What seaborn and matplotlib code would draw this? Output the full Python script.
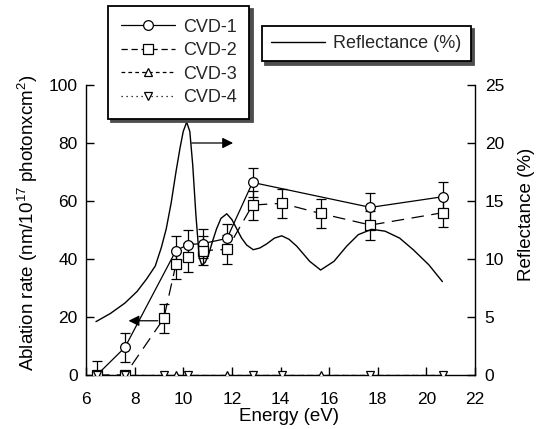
import numpy as np
import matplotlib
matplotlib.use("Agg")
import matplotlib.pyplot as plt
from matplotlib.lines import Line2D
import seaborn as sns

# ---------------- data ----------------
cvd1_x = [6.45, 7.6, 9.7, 10.2, 10.8, 11.8, 12.85, 17.7, 20.7]
cvd1_y = [0.0, 9.5, 42.9, 45.0, 45.3, 47.1, 66.4, 57.8, 61.5]
cvd1_err = [5, 5, 5, 5, 5, 5, 5, 5, 5]

cvd2_x = [6.45, 7.6, 9.2, 9.7, 10.2, 10.8, 11.8, 12.85, 14.05, 15.65, 17.7, 20.7]
cvd2_y = [0.0, 0.0, 19.5, 38.2, 40.6, 42.9, 43.3, 58.6, 59.2, 55.7, 51.7, 56.0]
cvd2_err = [0, 0, 5, 5, 5, 5, 5, 5, 5, 5, 5, 5]

cvd3_x = [6.45, 7.6, 9.7, 11.8, 12.85, 15.65, 20.7]
cvd3_y = [0, 0, 0, 0, 0, 0, 0]

cvd4_x = [6.45, 7.6, 9.2, 10.2, 12.85, 14.05, 17.7, 20.7]
cvd4_y = [0, 0, 0, 0, 0, 0, 0, 0]

refl_x = [6.41, 7.0, 7.6, 8.1, 8.5, 8.85, 9.1, 9.3, 9.5, 9.7, 9.87, 10.0, 10.14,
          10.27, 10.39, 10.52, 10.66, 10.76, 10.9, 11.03, 11.2, 11.37, 11.55,
          11.79, 12.0, 12.2, 12.4, 12.61, 12.88, 13.15, 13.43, 13.75, 14.05,
          14.35, 14.67, 15.2, 15.65, 16.2, 16.72, 17.2, 17.75, 18.3, 18.9,
          19.46, 20.1, 20.66]
refl_y = [4.6, 5.3, 6.2, 7.2, 8.3, 9.4, 11.0, 12.6, 14.8, 17.5, 19.6, 21.0, 21.8,
          21.0, 18.1, 13.8, 10.1, 9.5, 9.7, 10.3, 11.5, 12.6, 13.5,
          13.9, 13.4, 12.6, 11.8, 11.2, 10.8, 10.95, 11.3, 11.8, 12.0,
          11.7, 11.1, 9.8, 9.05, 9.8, 11.1, 12.1, 12.56, 12.4, 11.8,
          10.8, 9.5, 8.05]

xticks = [6, 8, 10, 12, 14, 16, 18, 20, 22]
yticks_left = [0, 20, 40, 60, 80, 100]
yticks_right = [0, 5, 10, 15, 20, 25]

# ---------------- style ----------------
sns.set_theme(style="ticks")
plt.rcParams["font.family"] = ["Liberation Sans", "DejaVu Sans"]
plt.rcParams["mathtext.fontset"] = "custom"
plt.rcParams["mathtext.rm"] = "Liberation Sans"
plt.rcParams["mathtext.it"] = "Liberation Sans:italic"
plt.rcParams["mathtext.bf"] = "Liberation Sans:bold"

W, H = 539, 429
fig = plt.figure(figsize=(W / 100, H / 100), dpi=100)
fig.patch.set_facecolor("white")
ax = fig.add_axes([86 / W, 1 - 375 / H, (475 - 86) / W, (375 - 85) / H])
ax.set_facecolor("white")
ax2 = ax.twinx()

lw = 0.9
mk = dict(markerfacecolor="white", markeredgecolor="black", markeredgewidth=0.9)

# error bars
ax.errorbar(cvd1_x, cvd1_y, yerr=cvd1_err, fmt="none", ecolor="black",
            elinewidth=0.9, capsize=3.5, capthick=0.9, zorder=2)
ax.errorbar(cvd2_x, cvd2_y, yerr=cvd2_err, fmt="none", ecolor="black",
            elinewidth=0.9, capsize=3.5, capthick=0.9, zorder=2)

sns.lineplot(x=cvd1_x, y=cvd1_y, ax=ax, color="black", lw=lw, linestyle="-",
             marker="o", markersize=7, sort=False, zorder=3, **mk)
sns.lineplot(x=cvd2_x, y=cvd2_y, ax=ax, color="black", lw=lw,
             dashes=False, linestyle=(0, (10, 6)),
             marker="s", markersize=6.5, sort=False, zorder=3, **mk)
sns.lineplot(x=cvd3_x, y=cvd3_y, ax=ax, color="black", lw=lw,
             linestyle=(0, (4, 3)),
             marker="^", markersize=6, sort=False, zorder=4, **mk)
sns.lineplot(x=cvd4_x, y=cvd4_y, ax=ax, color="black", lw=lw,
             linestyle=(0, (1, 3)),
             marker="v", markersize=6, sort=False, zorder=4, **mk)

sns.lineplot(x=refl_x, y=refl_y, ax=ax2, color="black", lw=1.0, sort=False)

# arrows
ax.annotate("", xy=(7.75, 18.7), xytext=(8.95, 18.7),
            arrowprops=dict(arrowstyle="-|>", color="black", lw=0.9,
                            mutation_scale=16, shrinkA=0, shrinkB=0))
ax2.annotate("", xy=(12.05, 20.0), xytext=(10.35, 20.0),
             arrowprops=dict(arrowstyle="-|>", color="black", lw=0.9,
                             mutation_scale=16, shrinkA=0, shrinkB=0))

# axes
ax.set_xlim(6, 22)
ax.set_ylim(0, 100)
ax2.set_ylim(0, 25)
ax.set_xticks(xticks)
ax.set_yticks(yticks_left)
ax2.set_yticks(yticks_right)
ax.set_xticklabels([str(v) for v in xticks])
ax.set_yticklabels([str(v) for v in yticks_left])
ax2.set_yticklabels([str(v) for v in yticks_right])

for a in (ax, ax2):
    a.spines["top"].set_visible(False)
    for s in ("left", "right", "bottom"):
        a.spines[s].set_linewidth(1.0)
        a.spines[s].set_color("black")
    a.grid(False)
ax.spines["right"].set_visible(False)
ax2.spines["left"].set_visible(False)
ax2.spines["bottom"].set_visible(False)

ax.tick_params(axis="x", direction="in", length=6, width=1, labelsize=12.5, pad=12,
               colors="black", top=False)
ax.tick_params(axis="y", direction="in", length=6, width=1, labelsize=12.5, pad=6,
               colors="black", right=False)
ax2.tick_params(axis="y", direction="in", length=6, width=1, labelsize=12.5, pad=7,
                colors="black")

ax.set_xlabel("Energy (eV)", fontsize=13.5, color="black")
ax.xaxis.set_label_coords(0.523, -0.114)
ax.set_ylabel(r"Ablation rate (nm/10$\mathregular{^{17}}$ photonxcm$\mathregular{^{2}}$)",
              fontsize=13.5, color="black")
ax.yaxis.set_label_coords(-0.118, 0.525)
ax2.set_ylabel("Reflectance (%)", fontsize=13.5, color="black")
ax2.yaxis.set_label_coords(1.111, 0.555)

# legends
def h(ls, m, ms):
    return Line2D([], [], color="black", lw=lw, linestyle=ls, marker=m,
                  markersize=ms, **mk)

handles1 = [h("-", "o", 7), h((0, (5, 3)), "s", 6.5), h((0, (3, 2.5)), "^", 6),
            h((0, (1, 3)), "v", 6)]
labels1 = ["CVD-1", "CVD-2", "CVD-3", "CVD-4"]
shadow = {"ox": 2.5, "oy": -2.5, "facecolor": "0.3", "edgecolor": "0.3", "alpha": 1.0}
leg1 = fig.legend(handles1, labels1, loc="upper left",
                  bbox_to_anchor=(108 / W, 1 - 6 / H), borderaxespad=0,
                  fontsize=13, frameon=True, fancybox=False, shadow=shadow,
                  handlelength=3.0, handletextpad=0.45, labelspacing=0.36,
                  borderpad=0.7, numpoints=1)
leg1.get_frame().set_edgecolor("black")
leg1.get_frame().set_linewidth(1.3)

leg2 = fig.legend([Line2D([], [], color="black", lw=1.0)], ["Reflectance (%)"],
                  loc="upper left", bbox_to_anchor=(262 / W, 1 - 26 / H),
                  borderaxespad=0, fontsize=13, frameon=True, fancybox=False,
                  shadow=shadow, handlelength=3.0, handletextpad=0.45,
                  borderpad=0.5)
leg2.get_frame().set_edgecolor("black")
leg2.get_frame().set_linewidth(1.3)

fig.savefig("out.png", dpi=100, facecolor="white")
